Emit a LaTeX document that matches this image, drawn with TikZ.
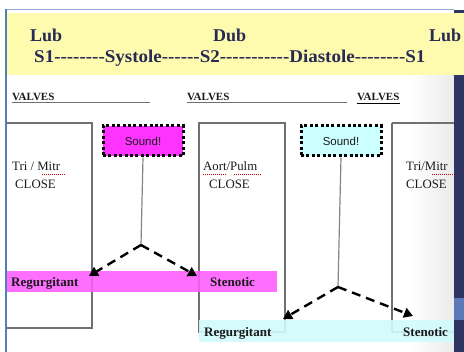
\documentclass[tikz,border=0pt]{standalone}
\usepackage{fontspec}
\setmainfont{Liberation Serif}[Ligatures=TeXOff]
\newfontfamily\soundfont{Liberation Sans}
\usetikzlibrary{arrows.meta}

\definecolor{frameblue}{HTML}{4F81BD}
\definecolor{toplinec}{HTML}{8FA9CF}
\definecolor{bandyellow}{HTML}{FFFBAE}
\definecolor{navytext}{HTML}{262A55}
\definecolor{sidebar}{HTML}{2F3563}
\definecolor{sidebarlight}{HTML}{5B79B8}
\definecolor{boxgray}{HTML}{707070}
\definecolor{stemgray}{HTML}{858585}
\definecolor{soundmag}{HTML}{FF33FF}
\definecolor{soundcyan}{HTML}{CCFFFF}
\definecolor{bandmag}{HTML}{FF5CFF}
\definecolor{bandcyan}{HTML}{D2FBFC}
\definecolor{textblack}{HTML}{1A1A1A}

\begin{document}
\begin{tikzpicture}[x=1pt,y=-1pt,
  hdr/.style={anchor=base west, inner sep=0, text=navytext,
    font=\bfseries\fontsize{18}{20}\selectfont},
  valvelbl/.style={anchor=base west, inner sep=0, text=textblack,
    font=\bfseries\fontsize{11}{13}\selectfont},
  boxtxt/.style={anchor=base west, inner sep=0, text=textblack,
    font=\fontsize{12.8}{14}\selectfont},
  bandtxt/.style={anchor=base west, inner sep=0, text=textblack,
    font=\bfseries\fontsize{13}{15}\selectfont},
  valvebox/.style={draw=boxgray, line width=1.2pt},
  soundbox/.style={draw=black, line width=3pt, dash pattern=on 3pt off 2.4pt,
    minimum width=80pt, minimum height=30pt, inner sep=0, text=textblack,
    font=\soundfont\fontsize{11.5}{13}\selectfont},
  stem/.style={draw=stemgray, line width=1.2pt},
  branch/.style={line width=2.4pt, dash pattern=on 9pt off 6pt,
    -{Triangle[length=9pt,width=10pt]}},
  squiggle/.style={draw=red!80!black, line width=0.6pt, dash pattern=on 1pt off 1pt},
  underl/.style={draw=boxgray, line width=1pt}]
\useasboundingbox (0,0) rectangle (464,352);

% slide background with the soft shadow towards the right edge
\fill[white] (0,0) rectangle (464,352);
\shade[left color=white, right color=black!8] (410,76) rectangle (454,352);

% dark side bar
\fill[sidebar] (454,10) rectangle (464,352);
\fill[sidebarlight] (454,298) rectangle (464,320);

% slide frame
\draw[toplinec, line width=1pt] (6,9.5) -- (454,9.5);

% title band
\fill[bandyellow] (7,13) rectangle (464,75);
\node[hdr] (lub1) at (30,42) {Lub};
\node[hdr] (dub) at (213,42) {Dub};
\node[hdr] (lub2) at (429,42) {Lub};
\node[hdr] (cycle) at (34,63)
  {\scalebox{1.055}[1]{S1--------Systole------S2-----------Diastole--------S1}};

% valve headings
\node[valvelbl] (v1) at (12,101) {VALVES};
\node[valvelbl] (v2) at (187,101) {VALVES};
\node[valvelbl] (v3) at (357,101) {VALVES};
\draw[underl] (12,103) -- (150,103);
\draw[underl] (187,103) -- (347,103);
\draw[black, line width=0.8pt] (357,103) -- (v3.base east |- 0,103);

% valve closure boxes
\draw[valvebox] (6,123) rectangle (92,328);
\draw[valvebox] (199,123) rectangle (285,332);
\draw[valvebox] (392,123) -- (392,332) -- (454,332);
\draw[valvebox] (392,123) -- (454,123);

\node[boxtxt] (tm1) at (12,171) {Tri / Mitr};
\node[boxtxt] (cl1) at (15,189) {CLOSE};
\node[boxtxt] (ap) at (203,171) {Aort/Pulm};
\node[boxtxt] (cl2) at (209,189) {CLOSE};
\node[boxtxt] (tm2) at (406,171) {Tri/Mitr};
\node[boxtxt] (cl3) at (406,189) {CLOSE};
\draw[squiggle] (42,174) -- (65,174);
\draw[squiggle] (203,174) -- (227,174);
\draw[squiggle] (234,174) -- (262,174);
\draw[squiggle] (432,174) -- (454,174);

% outcome bands
\fill[bandmag, fill opacity=0.88] (7,271) rectangle (277,292);
\fill[bandcyan, fill opacity=0.9] (199,320) rectangle (454,342);
\node[bandtxt] (reg1) at (11,287) {Regurgitant};
\node[bandtxt] (sten1) at (210,287) {Stenotic};
\node[bandtxt] (reg2) at (204,337) {Regurgitant};
\node[bandtxt] (sten2) at (403,337) {Stenotic};

% left frame edge
\draw[frameblue, line width=2pt] (6,9) -- (6,352);

% murmur branches
\node[soundbox, fill=soundmag] (sA) at (143,141) {Sound!};
\node[soundbox, fill=soundcyan] (sB) at (341,141) {Sound!};

\coordinate (forkA) at (141,245);
\coordinate (tipA1) at (89,276);
\coordinate (tipA2) at (197,276);
\coordinate (forkB) at (338,287);
\coordinate (tipB1) at (283,319);
\coordinate (tipB2) at (413,316);

\draw[stem] (sA.south) -- (forkA);
\draw[stem] (sB.south) -- (forkB);
\draw[branch] (forkA) -- (tipA1);
\draw[branch] (forkA) -- (tipA2);
\draw[branch] (forkB) -- (tipB1);
\draw[branch] (forkB) -- (tipB2);
\end{tikzpicture}
\end{document}
